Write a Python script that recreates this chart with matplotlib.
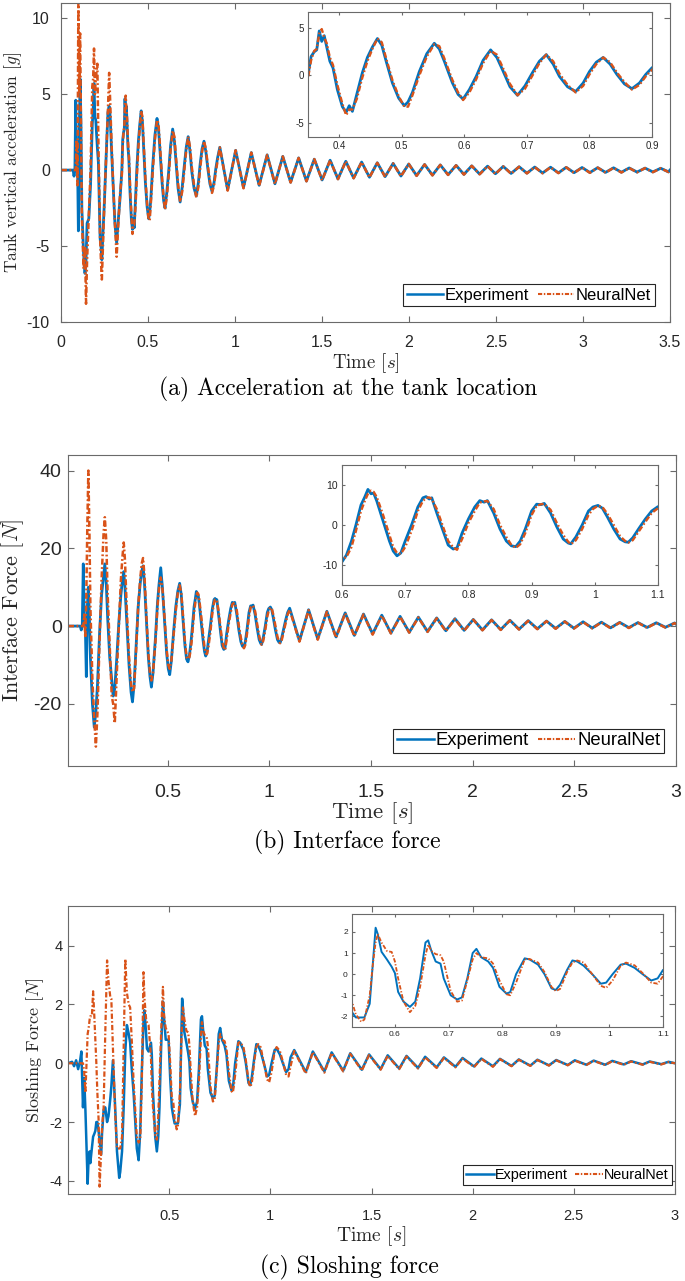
import numpy as np
import matplotlib
matplotlib.use("Agg")
import matplotlib.pyplot as plt
from matplotlib.lines import Line2D

plt.rcParams['mathtext.fontset'] = 'cm'
plt.rcParams['axes.unicode_minus'] = False
plt.rcParams['font.family'] = ['Liberation Sans', 'DejaVu Sans']

BLUE = '#0072BD'
ORANGE = '#D95319'
TXT = '#262626'
EDGE = '#6a6a6a'

# =========================
# DATA  (a) tank acceleration [g]
# =========================
t_acc = [0.0, 0.07, 0.075, 0.08, 0.085, 0.09, 0.095, 0.1, 0.105, 0.11, 0.115, 0.12, 0.13, 0.138,
         0.144, 0.15, 0.16, 0.17, 0.18, 0.185, 0.19, 0.195, 0.2, 0.209, 0.215, 0.225, 0.23, 0.235,
         0.24, 0.25, 0.26, 0.27, 0.277, 0.283, 0.29, 0.3, 0.31, 0.32, 0.33, 0.34,
         0.35, 0.355, 0.36, 0.364, 0.368, 0.372, 0.376, 0.38, 0.385, 0.39, 0.397, 0.405, 0.411,
         0.416, 0.421, 0.428, 0.437, 0.445, 0.453, 0.461, 0.468, 0.475, 0.485, 0.495, 0.504,
         0.51, 0.517, 0.528, 0.54, 0.552, 0.56, 0.568, 0.581, 0.59, 0.598, 0.608, 0.619, 0.63,
         0.642, 0.652, 0.661, 0.673, 0.685, 0.697, 0.709, 0.72, 0.731, 0.742, 0.752, 0.765,
         0.778, 0.79, 0.8, 0.811, 0.822, 0.833, 0.844, 0.856, 0.868, 0.88, 0.89, 0.9,
         0.913, 0.958, 1.004, 1.049, 1.094, 1.139, 1.185, 1.230, 1.275, 1.320, 1.366, 1.411,
         1.456, 1.501, 1.547, 1.592, 1.637, 1.682, 1.728, 1.773, 1.818, 1.863, 1.909, 1.954,
         1.999, 2.044, 2.090, 2.135, 2.180, 2.225, 2.271, 2.316, 2.361, 2.406, 2.452, 2.497,
         2.542, 2.587, 2.633, 2.678, 2.723, 2.768, 2.814, 2.859, 2.904, 2.949, 2.995, 3.040,
         3.085, 3.130, 3.176, 3.221, 3.266, 3.311, 3.357, 3.402, 3.447, 3.492, 3.5]
acc_exp = [0.0, 0.0, -0.4, 0.0, 4.6, 0.5, 0.8, -4.0, 2.5, 6.0, 3.0, -2.5, -5.5, -6.8,
           -6.0, -3.5, -3.2, -1.0, 3.0, 4.0, 5.7, 3.5, 3.3, 1.5, 0.5, -4.5, -5.0, -5.9,
           -4.5, -2.0, 1.0, 3.8, 4.2, 3.5, 1.5, -1.0, -3.5, -4.8, -3.2, -1.8,
           0.0, 2.0, 2.5, 2.7, 4.7, 3.6, 4.2, 3.0, 1.5, 0.8, -1.5, -3.3, -3.9,
           -3.2, -3.8, -2.0, 0.3, 1.9, 3.0, 3.9, 3.2, 1.5, -0.8, -2.4, -3.2,
           -2.8, -1.8, 0.4, 2.3, 3.4, 2.8, 1.5, -0.8, -2.0, -2.5, -1.5, -0.1, 1.6,
           2.7, 1.9, 0.6, -1.2, -2.1, -1.1, 0.3, 1.5, 2.2, 1.2, -0.1, -1.2,
           -1.7, -0.8, 0.4, 1.4, 1.9, 1.2, 0.1, -0.9, -1.4, -0.8, 0.1, 0.8,
           1.5, -1.3, 1.3, -1.15, 1.15, -1.0, 1.0, -0.9, 0.9, -0.8, 0.8, -0.72,
           0.72, -0.65, 0.65, -0.58, 0.58, -0.52, 0.53, -0.47, 0.48, -0.43, 0.44, -0.39,
           0.4, -0.36, 0.37, -0.33, 0.34, -0.3, 0.31, -0.28, 0.28, -0.26, 0.26, -0.24,
           0.24, -0.22, 0.22, -0.2, 0.2, -0.19, 0.19, -0.18, 0.18, -0.17, 0.17, -0.16,
           0.16, -0.15, 0.15, -0.14, 0.14, -0.13, 0.13, -0.12, 0.12, -0.12, 0.0]
acc_nn = [0.0, 0.0, 0.0, 0.0, 0.0, 2.0, -1.0, 11.0, 5.0, 9.0, 3.0, -3.0, -6.5, -5.0,
          -8.8, -6.0, -3.0, 0.0, 5.5, 6.0, 8.0, 5.0, 6.0, 7.0, 2.0, -4.5, -6.0, -7.2,
          -5.5, -2.0, 1.0, 4.0, 6.4, 4.5, 2.0, -1.0, -3.5, -5.7, -3.5, -1.5,
          -0.3, 1.6, 2.6, 2.8, 4.4, 4.9, 4.0, 3.4, 1.9, 1.1, -1.0, -3.0, -4.2,
          -3.6, -3.6, -2.5, -0.2, 1.5, 2.8, 3.9, 3.5, 1.8, -0.5, -2.2, -3.3,
          -3.3, -2.1, 0.0, 2.0, 3.3, 3.1, 1.8, -0.5, -1.8, -2.6, -1.8, -0.4, 1.3,
          2.6, 2.2, 0.9, -0.9, -2.1, -1.4, 0.0, 1.3, 2.2, 1.5, 0.2, -1.0,
          -1.8, -1.1, 0.1, 1.2, 1.9, 1.4, 0.3, -0.7, -1.5, -1.0, -0.1, 0.6,
          1.5, -1.35, 1.3, -1.2, 1.15, -1.05, 1.0, -0.92, 0.9, -0.82, 0.8, -0.74,
          0.72, -0.67, 0.65, -0.6, 0.58, -0.54, 0.53, -0.49, 0.48, -0.45, 0.44, -0.41,
          0.4, -0.38, 0.37, -0.35, 0.34, -0.32, 0.31, -0.3, 0.28, -0.28, 0.26, -0.26,
          0.24, -0.24, 0.22, -0.22, 0.2, -0.21, 0.19, -0.2, 0.18, -0.19, 0.17, -0.18,
          0.16, -0.17, 0.15, -0.16, 0.14, -0.15, 0.13, -0.14, 0.12, -0.13, 0.0]

# =========================
# DATA  (b) interface force [N]
# =========================
t_int = [0.01, 0.07, 0.075, 0.08, 0.085, 0.09, 0.095, 0.1, 0.105, 0.11, 0.115, 0.12, 0.13, 0.139,
         0.147, 0.155, 0.165, 0.175, 0.185, 0.191, 0.198, 0.205, 0.215, 0.225, 0.232, 0.24,
         0.25, 0.26, 0.27, 0.278, 0.284, 0.29, 0.3, 0.31, 0.32, 0.327, 0.335, 0.345, 0.355,
         0.365, 0.372, 0.379, 0.386, 0.395, 0.405, 0.413, 0.42, 0.428, 0.44, 0.45, 0.458,
         0.466, 0.474, 0.485, 0.495, 0.503, 0.51, 0.518, 0.53, 0.54, 0.55, 0.559, 0.567,
         0.575, 0.585, 0.593,
         0.6, 0.607, 0.615, 0.622, 0.63, 0.636, 0.641, 0.646, 0.65, 0.655, 0.665, 0.675,
         0.681, 0.687, 0.693, 0.7, 0.71, 0.72, 0.728, 0.733, 0.738, 0.742, 0.75, 0.76,
         0.768, 0.776, 0.782, 0.79, 0.8, 0.81, 0.818, 0.825, 0.83, 0.84, 0.85, 0.86,
         0.868, 0.875, 0.882, 0.89, 0.9, 0.908, 0.915, 0.92, 0.93, 0.94, 0.95, 0.958,
         0.962, 0.97, 0.98, 0.99, 0.997, 1.005, 1.012, 1.02, 1.03, 1.04, 1.048, 1.053,
         1.06, 1.07, 1.08, 1.09, 1.1,
         1.148, 1.193, 1.238, 1.283, 1.328, 1.373, 1.418, 1.463, 1.508, 1.553, 1.598,
         1.643, 1.688, 1.733, 1.778, 1.823, 1.868, 1.913, 1.958, 2.003, 2.048, 2.093,
         2.138, 2.183, 2.228, 2.273, 2.318, 2.363, 2.408, 2.453, 2.498, 2.543, 2.588,
         2.633, 2.678, 2.723, 2.768, 2.813, 2.858, 2.903, 2.948, 2.993, 3.0]
int_exp = [0.0, 0.0, -1.0, 0.0, 16.0, 2.0, 0.0, -13.0, 5.0, 10.0, 3.0, -8.0, -20.0, -26.0,
           -22.0, -15.0, -2.0, 8.0, 13.0, 16.0, 11.0, 2.0, -8.0, -14.0, -18.0, -16.0,
           -8.0, 1.0, 8.0, 12.0, 14.0, 10.0, 0.0, -10.0, -17.0, -19.5, -15.0, -5.0, 5.0,
           11.0, 14.0, 15.5, 11.0, 2.0, -8.0, -13.0, -15.7, -12.0, -3.0, 6.0, 11.0,
           15.0, 10.0, 1.0, -7.0, -11.0, -12.5, -9.0, -1.0, 5.0, 9.0, 11.0, 8.0,
           2.0, -5.0, -8.5,
           -9.2, -7.5, -4.0, 0.0, 5.0, 7.0, 8.9, 7.8, 8.0, 6.0, 1.0, -4.0,
           -6.5, -7.7, -7.0, -4.0, 0.0, 4.5, 6.8, 7.1, 6.5, 6.8, 3.0, -1.5,
           -5.0, -6.0, -5.7, -2.0, 1.5, 4.5, 6.1, 5.7, 6.1, 3.0, -1.0, -4.0,
           -5.2, -5.4, -4.0, -1.0, 3.5, 5.2, 5.1, 5.4, 3.0, -0.5, -3.5, -4.5,
           -4.7, -3.0, 0.0, 3.5, 4.5, 4.9, 4.2, 2.0, -1.0, -3.5, -4.2, -4.3,
           -3.2, -0.8, 1.5, 3.5, 4.6,
           -3.8, 4.2, -3.3, 3.8, -2.8, 3.4, -2.4, 3.1, -2.0, 2.8, -1.8,
           2.5, -1.6, 2.3, -1.4, 2.1, -1.2, 1.9, -1.1, 1.7, -1.0, 1.6,
           -0.9, 1.5, -0.8, 1.4, -0.7, 1.3, -0.6, 1.2, -0.55, 1.1, -0.5,
           1.0, -0.45, 0.95, -0.4, 0.9, -0.35, 0.85, -0.3, 0.8, 0.5]
int_nn = [0.0, 0.0, 0.0, 0.0, 0.0, 3.0, -3.0, 8.0, 26.0, 40.0, 25.0, 5.0, -14.0, -24.0,
          -31.0, -22.0, -4.0, 12.0, 24.0, 28.0, 22.0, 8.0, -5.0, -18.0, -20.0, -25.0,
          -12.0, 0.0, 12.0, 18.0, 21.5, 17.0, 3.0, -8.0, -15.0, -17.0, -16.0, -6.0, 5.0,
          12.0, 16.0, 17.5, 13.0, 3.0, -7.0, -12.0, -14.0, -12.0, -4.0, 5.0, 10.0,
          12.5, 10.0, 2.0, -6.0, -10.0, -11.0, -9.0, -2.0, 4.0, 8.5, 10.5, 8.5,
          3.0, -4.0, -8.0,
          -8.5, -8.0, -5.5, -1.5, 3.5, 6.0, 7.8, 8.6, 8.3, 7.0, 2.5, -2.5,
          -5.5, -7.0, -7.2, -5.5, -1.5, 3.5, 6.0, 6.8, 6.9, 6.5, 4.0, -0.5,
          -4.0, -5.6, -6.2, -3.5, 0.5, 3.5, 5.6, 5.9, 6.0, 4.0, 0.0, -3.0,
          -5.0, -5.7, -4.8, -2.0, 2.5, 4.8, 5.2, 5.3, 3.8, 0.5, -2.5, -4.2,
          -4.8, -3.8, -1.0, 2.5, 4.0, 4.8, 4.5, 2.8, 0.0, -2.8, -4.0, -4.4,
          -3.8, -1.5, 0.8, 3.0, 4.2,
          -4.0, 4.1, -3.5, 3.7, -3.0, 3.3, -2.6, 3.0, -2.2, 2.7, -1.9,
          2.4, -1.7, 2.2, -1.5, 2.0, -1.3, 1.8, -1.2, 1.65, -1.1, 1.55,
          -1.0, 1.45, -0.9, 1.35, -0.8, 1.25, -0.7, 1.15, -0.65, 1.05, -0.6,
          0.95, -0.55, 0.9, -0.5, 0.85, -0.45, 0.8, -0.4, 0.75, 0.45]

# =========================
# DATA  (c) sloshing force [N]
# =========================
t_slo = [0.0, 0.02, 0.03, 0.04, 0.05, 0.06, 0.066, 0.074, 0.08, 0.086, 0.094, 0.097, 0.102,
         0.107, 0.11, 0.118, 0.124, 0.13, 0.135, 0.14, 0.145, 0.151, 0.156, 0.164, 0.168,
         0.176, 0.184, 0.193, 0.2, 0.209, 0.214, 0.222, 0.233, 0.242, 0.253, 0.258, 0.267,
         0.275, 0.283, 0.291, 0.3, 0.307, 0.315, 0.324, 0.34, 0.349, 0.357, 0.365, 0.373,
         0.378, 0.386, 0.39, 0.398, 0.41, 0.414, 0.42, 0.431, 0.439, 0.446, 0.452, 0.46,
         0.469, 0.475, 0.483, 0.497, 0.505, 0.513,
         0.52, 0.527, 0.537, 0.543, 0.553, 0.559, 0.564, 0.568, 0.575, 0.585, 0.594, 0.6,
         0.606, 0.616, 0.628, 0.638, 0.647, 0.657, 0.662, 0.668, 0.676, 0.685, 0.691,
         0.704, 0.716, 0.725, 0.735, 0.745, 0.752, 0.761, 0.774, 0.783, 0.795, 0.808,
         0.815, 0.826, 0.842, 0.851, 0.867, 0.879, 0.892, 0.9, 0.908, 0.921, 0.931, 0.94,
         0.952, 0.968, 0.984, 0.994, 1.006, 1.021, 1.031, 1.047, 1.062, 1.078, 1.09, 1.1,
         1.118, 1.175, 1.21, 1.267, 1.303, 1.36, 1.395, 1.452, 1.488, 1.545, 1.58, 1.637,
         1.673, 1.73, 1.765, 1.822, 1.858, 1.915, 1.95, 2.007, 2.043, 2.1, 2.135, 2.192,
         2.228, 2.285, 2.32, 2.377, 2.413, 2.47, 2.505, 2.562, 2.598, 2.655, 2.69, 2.747,
         2.783, 2.84, 2.875, 2.932, 2.968, 3.0]
slo_exp = [0.0, 0.05, -0.1, 0.1, -0.2, 0.1, 0.4, -1.5, -0.5, -1.6, -3.5, -4.1, -3.2,
           -3.0, -3.4, -2.9, -2.5, -2.4, -2.3, -2.0, -2.0, -2.3, -2.6, -3.1, -2.4,
           -1.6, -1.5, -2.0, -1.8, -1.2, -0.8, 0.1, -1.5, -3.0, -3.9, -3.7, -3.0,
           -1.5, 0.4, 1.3, 1.0, 0.7, -0.2, -1.0, -2.9, -3.3, -2.3, -0.2, 1.4,
           1.8, 1.0, 0.5, 0.4, 0.7, 0.3, -1.0, -2.5, -3.0, -2.5, -1.5, 0.5,
           2.1, 1.5, 0.8, 0.8, -0.5, -1.5,
           -1.8, -2.05, -2.05, -2.05, -1.4, 0.6, 2.2, 1.9, 1.06, 0.7, 0.35, 0.05,
           -0.84, -1.3, -1.55, -1.3, -0.2, 1.5, 1.6, 1.1, 0.6, 0.5, -0.2,
           -1.0, -1.2, -1.1, -0.2, 1.0, 1.2, 0.8, 0.6, 0.3, -0.6, -0.92,
           -0.85, 0.0, 0.75, 0.7, 0.45, 0.0, -0.67, -0.75, -0.5, 0.2, 0.65, 0.6,
           0.4, 0.0, -0.45, -0.4, 0.0, 0.45, 0.5, 0.3, 0.0, -0.3, -0.2, 0.2,
           0.45, -0.3, 0.4, -0.28, 0.37, -0.25, 0.34, -0.22, 0.3, -0.2, 0.27, -0.18,
           0.25, -0.16, 0.22, -0.14, 0.2, -0.12, 0.18, -0.11, 0.16, -0.1, 0.15, -0.09,
           0.13, -0.08, 0.12, -0.07, 0.11, -0.06, 0.1, -0.05, 0.09, -0.05, 0.08, -0.04,
           0.07, -0.04, 0.06, -0.03, 0.05, 0.0]
slo_nn = [0.0, 0.0, 0.0, 0.0, 0.0, 0.0, 0.0, 0.0, -0.3, -1.0, 0.5, 1.0, 1.2,
          1.5, 1.6, 1.6, 2.45, 1.6, 0.8, 0.0, -1.0, -1.9, -4.2, -3.0, -2.2,
          -1.5, 1.0, 3.5, 2.8, 2.25, 2.2, 0.5, -1.7, -2.9, -2.9, -2.9, -2.5,
          0.6, 3.55, 2.4, 2.0, 1.9, 0.8, -0.6, -2.5, -2.7, -2.6, -0.6, 3.1,
          2.2, 1.5, 1.4, 1.3, 0.2, -0.8, -1.5, -2.45, -2.6, -1.8, -0.6, 1.0,
          2.6, 1.6, 1.2, 1.0, 0.0, -1.2,
          -1.3, -1.9, -2.25, -2.15, -1.0, 0.5, 1.5, 1.9, 1.5, 1.1, 1.05, 0.6,
          -0.2, -1.3, -1.8, -1.5, -0.6, 0.9, 1.4, 1.1, 0.95, 0.9, 0.6,
          -0.8, -1.3, -1.25, -0.3, 0.7, 1.0, 0.8, 0.75, 0.5, -0.3, -0.95,
          -1.0, -0.4, 0.7, 0.72, 0.55, 0.1, -0.6, -0.8, -0.7, 0.1, 0.55, 0.65,
          0.55, 0.0, -0.55, -0.65, -0.3, 0.4, 0.55, 0.42, 0.05, -0.4, -0.45, -0.1,
          0.42, -0.35, 0.38, -0.32, 0.35, -0.28, 0.32, -0.25, 0.28, -0.22, 0.25, -0.2,
          0.23, -0.18, 0.2, -0.16, 0.18, -0.14, 0.16, -0.13, 0.15, -0.12, 0.14, -0.1,
          0.12, -0.09, 0.11, -0.08, 0.1, -0.07, 0.09, -0.06, 0.08, -0.06, 0.07, -0.05,
          0.06, -0.05, 0.05, -0.04, 0.04, 0.0]

# =========================
# HELPERS
# =========================
def style_axes(ax, tick_size, tick_len, xpad, ypad):
    for s in ax.spines.values():
        s.set_color(EDGE)
        s.set_linewidth(0.8)
    ax.tick_params(direction='in', which='both', top=True, right=True, length=tick_len,
                   width=0.8, color=EDGE, labelcolor=TXT, labelsize=tick_size)
    ax.tick_params(axis='x', pad=xpad)
    ax.tick_params(axis='y', pad=ypad)


def draw(ax, t, exp, nn, lw_exp, lw_nn):
    ax.plot(t, exp, color=BLUE, lw=lw_exp, solid_joinstyle='round')
    ax.plot(t, nn, color=ORANGE, lw=lw_nn, linestyle=(0, (2.4, 1.0, 0.7, 1.0)))


def add_legend(ax, size, anchor, hlen):
    handles = [Line2D([], [], color=BLUE, lw=1.8),
               Line2D([], [], color=ORANGE, lw=1.5, linestyle=(0, (2.0, 0.8, 0.7, 0.8)))]
    leg = ax.legend(handles, ['Experiment', 'NeuralNet'], ncol=2, loc='lower right',
                    bbox_to_anchor=anchor, fontsize=size, frameon=True, fancybox=False,
                    framealpha=1, edgecolor=TXT, borderpad=0.2, handlelength=hlen,
                    handletextpad=0.1, columnspacing=0.5, borderaxespad=0.0)
    leg.get_frame().set_linewidth(0.8)


def labels(ax, ytext, ysize, ypos, xsize, xpos):
    ax.set_ylabel(ytext, fontfamily='cmr10', fontsize=ysize, color=TXT, va='center')
    ax.yaxis.set_label_coords(ypos, 0.5)
    ax.set_xlabel('Time $[s]$', fontfamily='cmr10', fontsize=xsize, color=TXT, va='center')
    ax.xaxis.set_label_coords(0.5, xpos)


fig = plt.figure(figsize=(6.85, 12.81), dpi=100)

# =========================
# (a) ACCELERATION
# =========================
ax_a = fig.add_axes([0.089, 0.7486, 0.889, 0.2491])
draw(ax_a, t_acc, acc_exp, acc_nn, 2.0, 1.8)
ax_a.set_xlim(0, 3.5)
ax_a.set_ylim(-10, 11)
ax_a.set_xticks(np.arange(0, 3.51, 0.5))
ax_a.set_xticklabels(['0', '0.5', '1', '1.5', '2', '2.5', '3', '3.5'])
ax_a.set_yticks([-10, -5, 0, 5, 10])
style_axes(ax_a, 11.5, 4, 9.5, 8)
labels(ax_a, 'Tank vertical acceleration $[g]$', 12.5, -0.079, 13.5, -0.129)
add_legend(ax_a, 12, (0.975, 0.05), 2.2)

ins_a = fig.add_axes([0.4496, 0.8931, 0.5022, 0.0975])
draw(ins_a, t_acc, acc_exp, acc_nn, 2.0, 1.7)
ins_a.set_xlim(0.35, 0.9)
ins_a.set_ylim(-6.5, 6.7)
ins_a.set_xticks([0.4, 0.5, 0.6, 0.7, 0.8, 0.9])
ins_a.set_yticks([-5, 0, 5])
style_axes(ins_a, 7, 2.5, 3, 3)

fig.text(0.508, 1 - 389 / 1281, '(a) Acceleration at the tank location', fontfamily='cmr10',
         fontsize=17, color='black', ha='center', va='center')

# =========================
# (b) INTERFACE FORCE
# =========================
ax_b = fig.add_axes([0.0993, 0.402, 0.8876, 0.2428])
draw(ax_b, t_int, int_exp, int_nn, 2.0, 1.8)
ax_b.set_xlim(0.01, 3)
ax_b.set_ylim(-36, 44)
ax_b.set_xticks([0.5, 1, 1.5, 2, 2.5, 3])
ax_b.set_xticklabels(['0.5', '1', '1.5', '2', '2.5', '3'])
ax_b.set_yticks([-20, 0, 20, 40])
style_axes(ax_b, 14, 4, 13, 4.5)
labels(ax_b, 'Interface Force $[N]$', 16, -0.0905, 16.5, -0.151)
add_legend(ax_b, 13.3, (0.98, 0.042), 2.0)

ins_b = fig.add_axes([0.4993, 0.5433, 0.4613, 0.0937])
draw(ins_b, t_int, int_exp, int_nn, 2.0, 1.7)
ins_b.set_xlim(0.6, 1.1)
ins_b.set_ylim(-15, 15)
ins_b.set_xticks([0.6, 0.7, 0.8, 0.9, 1.0, 1.1])
ins_b.set_xticklabels(['0.6', '0.7', '0.8', '0.9', '1', '1.1'])
ins_b.set_yticks([-10, 0, 10])
style_axes(ins_b, 7.5, 2.5, 3.5, 3)

fig.text(0.507, 1 - 842 / 1281, '(b) Interface force', fontfamily='cmr10', fontsize=17,
         color='black', ha='center', va='center')

# =========================
# (c) SLOSHING FORCE
# =========================
ax_c = fig.add_axes([0.0993, 0.0679, 0.8861, 0.2248])
draw(ax_c, t_slo, slo_exp, slo_nn, 1.8, 1.6)
ax_c.set_xlim(0.0, 3)
ax_c.set_ylim(-4.45, 5.35)
ax_c.set_xticks([0.5, 1, 1.5, 2, 2.5, 3])
ax_c.set_xticklabels(['0.5', '1', '1.5', '2', '2.5', '3'])
ax_c.set_yticks([-4, -2, 0, 2, 4])
style_axes(ax_c, 10.5, 4, 11, 4)
labels(ax_c, 'Sloshing Force $[N]$', 13, -0.0544, 14, -0.146)
add_legend(ax_c, 10.4, (0.995, 0.031), 1.9)

ins_c = fig.add_axes([0.5139, 0.1983, 0.454, 0.0882])
draw(ins_c, t_slo, slo_exp, slo_nn, 1.4, 1.3)
ins_c.set_xlim(0.52, 1.1)
ins_c.set_ylim(-2.5, 2.85)
ins_c.set_xticks([0.6, 0.7, 0.8, 0.9, 1.0, 1.1])
ins_c.set_xticklabels(['0.6', '0.7', '0.8', '0.9', '1', '1.1'])
ins_c.set_yticks([-2, -1, 0, 1, 2])
style_axes(ins_c, 6, 2, 3, 3)

fig.text(0.51, 1 - 1267 / 1281, '(c) Sloshing force', fontfamily='cmr10', fontsize=17,
         color='black', ha='center', va='center')

fig.savefig('out.png', dpi=100)
